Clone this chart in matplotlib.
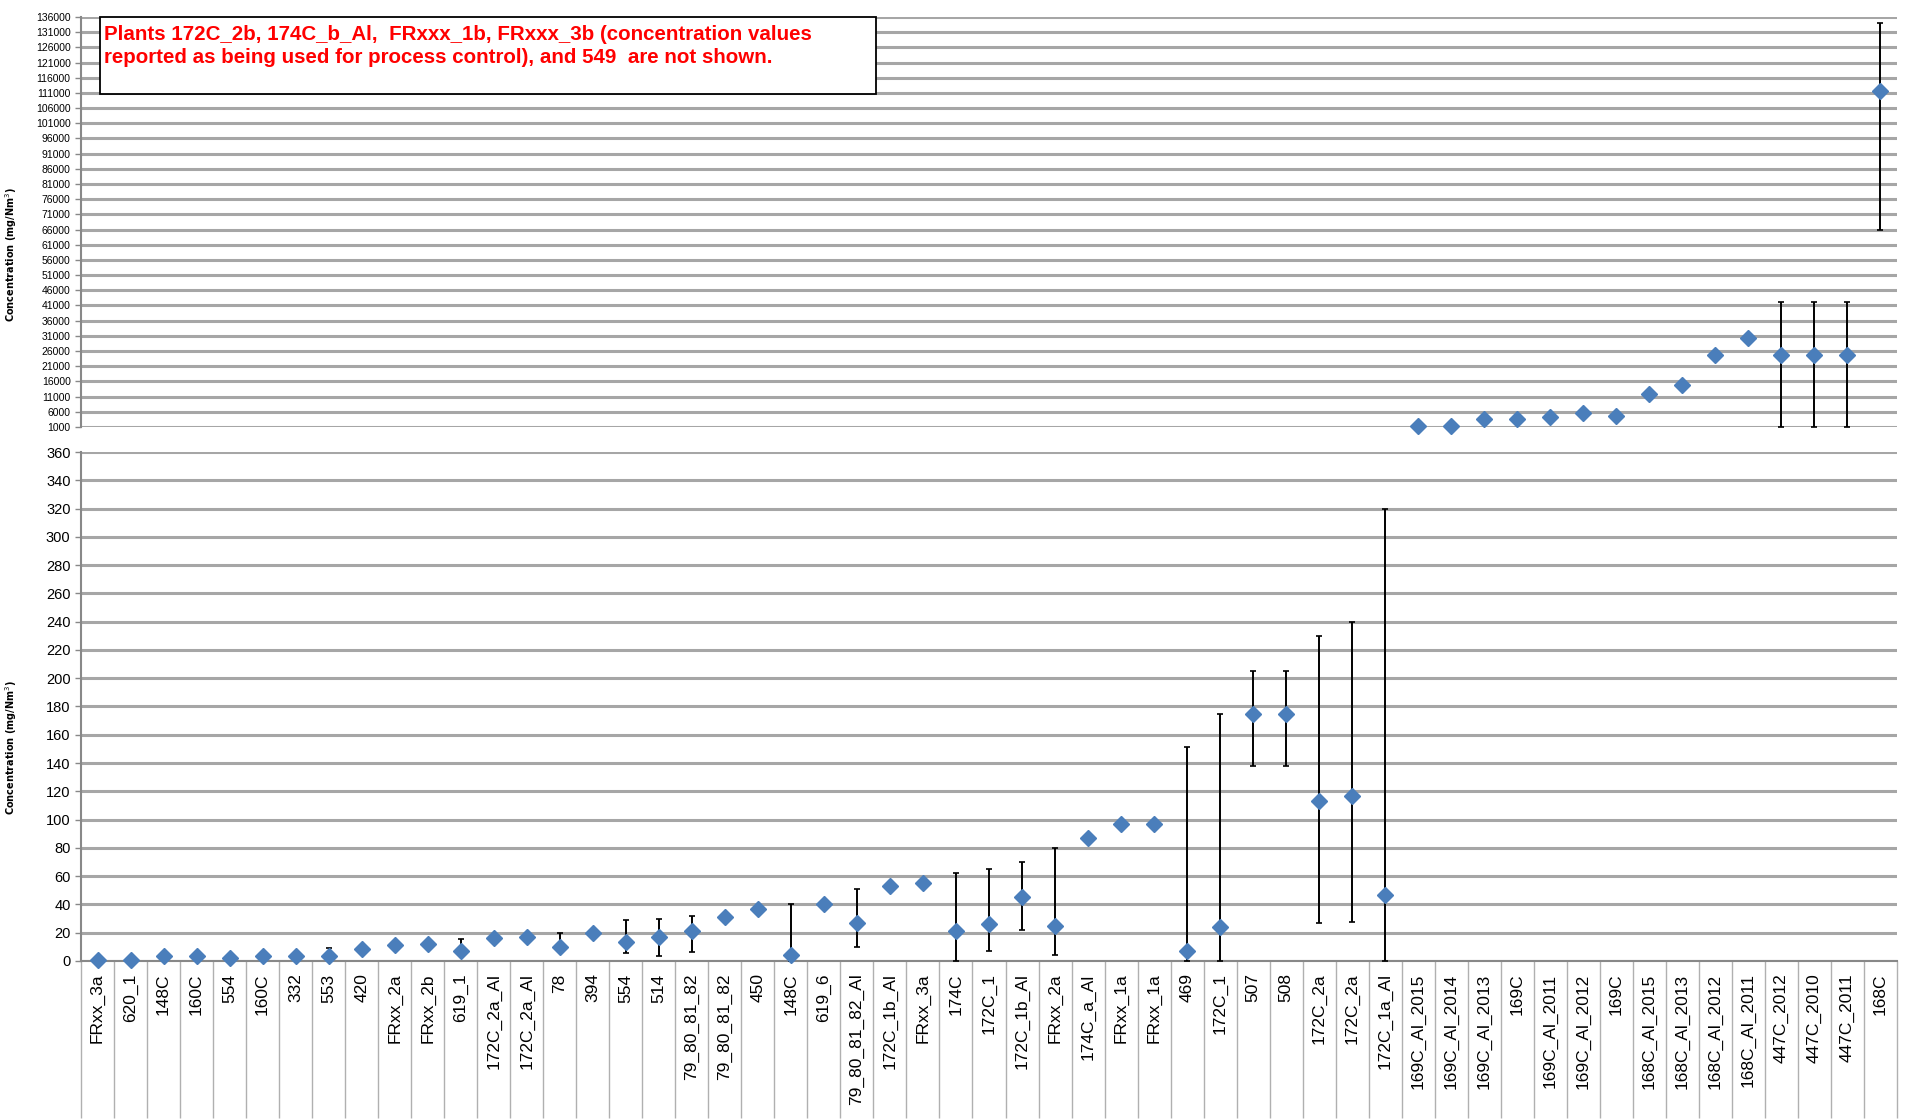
import matplotlib
matplotlib.use("Agg")
import matplotlib.pyplot as plt
from matplotlib.patches import Rectangle
from matplotlib.ticker import FixedLocator
import numpy as np

categories = ["FRxx_3a", "620_1", "148C", "160C", "554", "160C", "332", "553", "420",
              "FRxx_2a", "FRxx_2b", "619_1", "172C_2a_Al", "172C_2a_Al", "78", "394", "554",
              "514", "79_80_81_82", "79_80_81_82", "450", "148C", "619_6", "79_80_81_82_Al",
              "172C_1b_Al", "FRxx_3a", "174C", "172C_1", "172C_1b_Al", "FRxx_2a", "174C_a_Al",
              "FRxx_1a", "FRxx_1a", "469", "172C_1", "507", "508", "172C_2a", "172C_2a",
              "172C_1a_Al", "169C_Al_2015", "169C_Al_2014", "169C_Al_2013", "169C",
              "169C_Al_2011", "169C_Al_2012", "169C", "168C_Al_2015", "168C_Al_2013",
              "168C_Al_2012", "168C_Al_2011", "447C_2012", "447C_2010", "447C_2011", "168C"]

values = [0.7, 0.7, 3.5, 3.5, 2, 3.5, 3.5, 3.5, 8.5, 11, 12, 7, 16, 17, 10, 20, 13.5, 17, 21,
          31, 36.5, 4.5, 40, 27, 53, 55.5, 21, 26, 45, 25, 87, 97, 97, 7, 24, 174.5, 174.5,
          113, 117, 47,
          1300, 1300, 3700, 3700, 4300, 5600, 4500, 11900, 14900, 24800, 30200, 24800,
          24800, 24800, 111700]

err_low = [None, None, None, None, None, None, None, None, None, None, None, 3.7, None, None,
           6, None, 5.6, 3.7, 6, None, None, 0, None, 10, None, None, 0, 7, 22, 4.4, None,
           None, None, 0, 0, 138, 138, 26.5, 27.6, 0,
           None, None, None, None, None, None, None, None, None, None, None, 1000, 1000,
           1000, 66000]

err_high = [None, None, None, None, None, None, None, 9, None, None, None, 15.4, None, None,
            20, None, 29, 30, 32, None, None, 40, None, 51, None, None, 62, 65, 70, 80, None,
            None, None, 151, 175, 205, 205, 230, 240, 320,
            None, None, None, None, None, None, None, None, None, None, None, 42000, 42000,
            42000, 134100]

top_ticks = list(range(1000, 136001, 5000))
bottom_ticks = list(range(0, 361, 20))
note = ("Plants 172C_2b, 174C_b_Al,  FRxxx_1b, FRxxx_3b (concentration values\n"
        "reported as being used for process control), and 549  are not shown.")
ylabel = "Concentration (mg/Nm$^3$)"

marker_color = "#4a7ebb"
grid_color = "#a6a6a6"

fig = plt.figure(figsize=(19.15, 11.2), dpi=100)
ax_top = fig.add_axes([0.0423, 0.6188, 0.9483, 0.366])
ax_bot = fig.add_axes([0.0423, 0.1420, 0.9483, 0.4544])

x = np.arange(len(categories))
vals = np.array(values, dtype=float)
lo = np.array([np.nan if v is None else v for v in err_low], dtype=float)
hi = np.array([np.nan if v is None else v for v in err_high], dtype=float)

def draw(ax, mask):
    xs = x[mask]
    vs = vals[mask]
    l = lo[mask]
    h = hi[mask]
    em = ~np.isnan(l) | ~np.isnan(h)
    if em.any():
        lower = np.where(np.isnan(l), vs, l)[em]
        upper = np.where(np.isnan(h), vs, h)[em]
        yerr = np.vstack([vs[em] - lower, upper - vs[em]])
        ax.errorbar(xs[em], vs[em], yerr=yerr, fmt="none", ecolor="black",
                    elinewidth=1.4, capsize=2, capthick=1.2, zorder=3)
    ax.plot(xs, vs, linestyle="none", marker="D", markersize=8.5,
            color=marker_color, zorder=4, clip_on=False)

draw(ax_bot, vals < 360)
draw(ax_top, vals >= 1000)

for ax in (ax_top, ax_bot):
    ax.set_xlim(-0.5, len(categories) - 0.5)
    ax.grid(axis="y", color=grid_color, linewidth=2.2)
    ax.set_axisbelow(True)
    for s in ("top", "right"):
        ax.spines[s].set_visible(False)
    ax.spines["left"].set_color("#888888")
    ax.spines["left"].set_linewidth(1.5)
    ax.tick_params(axis="y", length=4, color="#888888", width=1)
    ax.set_ylabel(ylabel, fontsize=7, fontweight="bold", family="DejaVu Sans")
    ax.yaxis.set_label_coords(-0.034, 0.42)

ax_top.set_ylim(1000, 136000)
ax_top.set_yticks(top_ticks)
ax_top.set_yticklabels([str(t) for t in top_ticks], fontsize=7.5, family="Liberation Sans")
ax_top.spines["bottom"].set_visible(False)
ax_top.set_xticks([])

ax_bot.set_ylim(0, 360)
ax_bot.set_yticks(bottom_ticks)
ax_bot.set_yticklabels([str(t) for t in bottom_ticks], fontsize=10.5, family="Liberation Sans")
ax_bot.spines["bottom"].set_color("#888888")
ax_bot.spines["bottom"].set_linewidth(1.5)
ax_bot.set_xticks(x)
ax_bot.set_xticklabels(categories, rotation=90, fontsize=12.5, family="Liberation Sans",
                       va="top", ha="center")
ax_bot.tick_params(axis="x", which="major", length=0, pad=9)
ax_bot.xaxis.set_minor_locator(FixedLocator(np.arange(-0.5, len(categories), 1.0)))
ax_bot.tick_params(axis="x", which="minor", length=113, width=1, color="#b0b0b0",
                   direction="out")

fig.patches.append(Rectangle((0.0522, 0.916), 0.405, 0.0688, transform=fig.transFigure,
                             facecolor="white", edgecolor="black", linewidth=1.3, zorder=5))
fig.text(0.0545, 0.978, note, color="#ff0000", fontsize=14.8, fontweight="bold",
         family="Liberation Sans", va="top", ha="left", linespacing=1.3, zorder=6)

fig.savefig("out.png", dpi=100)
